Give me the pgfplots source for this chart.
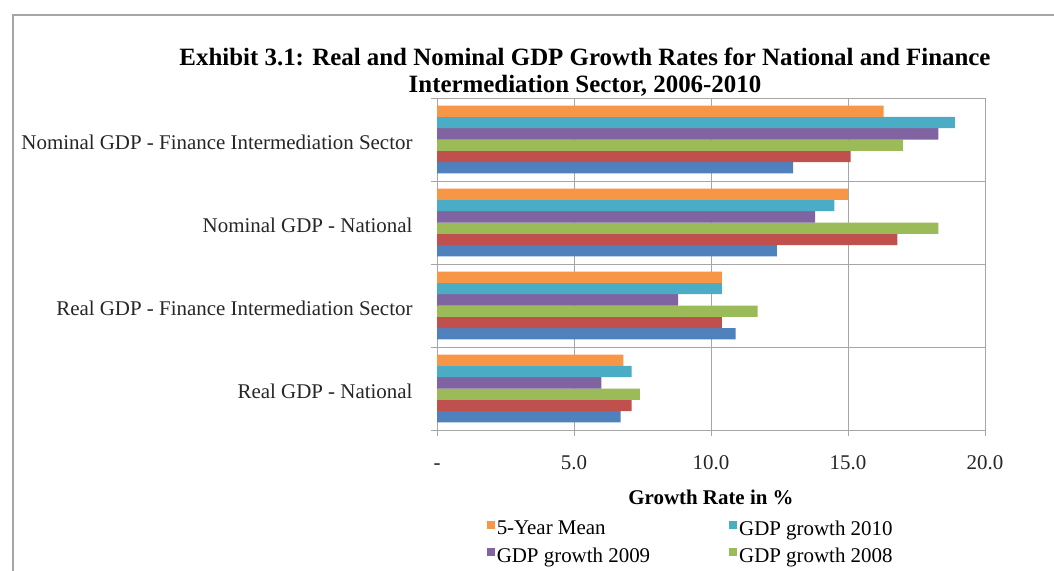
\documentclass[border=0pt]{standalone}
\usepackage{fontspec}
\setmainfont{Liberation Serif}
\usepackage{pgfplots}
\pgfplotsset{compat=1.18}
\definecolor{cBlue}{HTML}{4F81BD}
\definecolor{cRed}{HTML}{C0504D}
\definecolor{cGreen}{HTML}{9BBB59}
\definecolor{cPurple}{HTML}{8064A2}
\definecolor{cTeal}{HTML}{4BACC6}
\definecolor{cOrange}{HTML}{F79646}
\definecolor{cGrid}{HTML}{A6A6A6}
\begin{document}
\begin{tikzpicture}
\path[use as bounding box, clip] (0bp,0bp) rectangle (1054bp,571bp);
\fill[white] (0bp,0bp) rectangle (1054bp,571bp);
\draw[cGrid, line width=2bp] (13bp,-30bp) rectangle (1100bp,556bp);
\node[font=\bfseries\fontsize{25}{27}\selectfont, align=center] at (585bp,499bp)
  {Exhibit 3.1: Real and Nominal GDP Growth Rates for National and Finance\\Intermediation Sector, 2006-2010};
\coordinate (A) at (437bp,141bp);
\begin{axis}[
  at={(A)}, anchor=south west,
  scale only axis, width=548bp, height=332bp,
  xbar, bar width=0.136,
  xmin=0, xmax=20, ymin=-0.5, ymax=3.5,
  axis line style={cGrid, line width=1bp},
  xtick={0,5,10,15,20}, xticklabels={-,5.0,10.0,15.0,20.0},
  xmajorgrids, ymajorgrids,
  major grid style={cGrid, line width=1bp},
  tick style={cGrid, line width=1bp},
  tick align=outside, major tick length=6bp,
  xtick pos=bottom, ytick pos=left,
  ytick={-0.5,0.5,1.5,2.5,3.5}, yticklabels={},
  extra y ticks={0,1,2,3},
  extra y tick labels={Real GDP - National, Real GDP - Finance Intermediation Sector, Nominal GDP - National, Nominal GDP - Finance Intermediation Sector},
  extra y tick style={grid=none, major tick length=0pt, yticklabel style={xshift=-21bp, yshift=-3bp}},
  ticklabel style={font=\fontsize{21}{24}\selectfont, text=black!85},
  xticklabel style={yshift=-16bp, text height=14bp, text depth=4bp},
  xlabel={\bfseries Growth Rate in \%},
  xlabel style={font=\fontsize{21}{24}\selectfont, yshift=-10bp},
  legend columns=2, reverse legend,
  legend style={at={(0.085,-0.26)}, anchor=north west, draw=none, fill=none,
    font=\fontsize{21}{24}\selectfont, row sep=7bp,
    /tikz/every even column/.append style={column sep=77bp}},
  legend cell align=left,
  legend image code/.code={\fill[#1] (0bp,0bp) rectangle (8bp,8bp);},
]
\addplot[fill=cBlue, draw=none, bar shift=-0.34, forget plot] coordinates {(6.7,0) (10.9,1) (12.4,2) (13.0,3)};
\addplot[fill=cRed, draw=none, bar shift=-0.204, forget plot] coordinates {(7.1,0) (10.4,1) (16.8,2) (15.1,3)};
\addplot[fill=cGreen, draw=none, bar shift=-0.068] coordinates {(7.4,0) (11.7,1) (18.3,2) (17.0,3)};
\addlegendentry{GDP growth 2008}
\addplot[fill=cPurple, draw=none, bar shift=0.068] coordinates {(6.0,0) (8.8,1) (13.8,2) (18.3,3)};
\addlegendentry{GDP growth 2009}
\addplot[fill=cTeal, draw=none, bar shift=0.204] coordinates {(7.1,0) (10.4,1) (14.5,2) (18.9,3)};
\addlegendentry{GDP growth 2010}
\addplot[fill=cOrange, draw=none, bar shift=0.34] coordinates {(6.8,0) (10.4,1) (15.0,2) (16.3,3)};
\addlegendentry{5-Year Mean}
\end{axis}
\end{tikzpicture}
\end{document}
